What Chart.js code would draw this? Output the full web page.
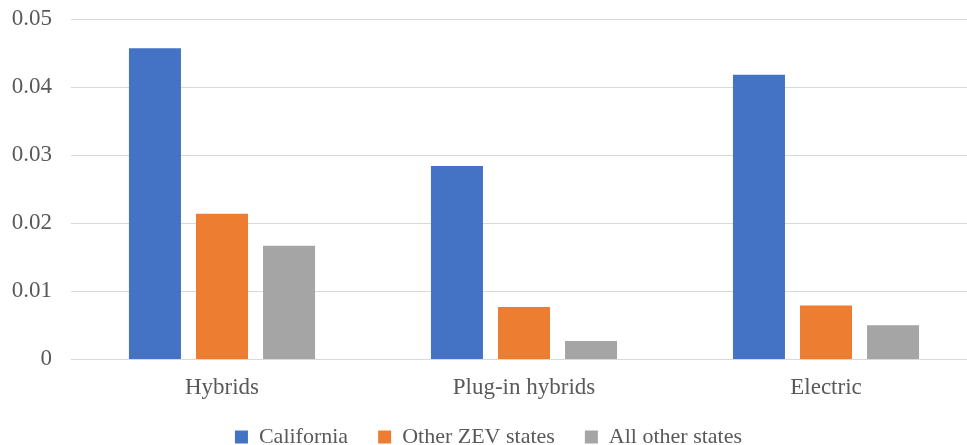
<!DOCTYPE html>
<html>
<head>
<meta charset="utf-8">
<script src="https://cdn.jsdelivr.net/npm/chart.js"></script>
<style>
  html, body { margin: 0; padding: 0; background: #fff; overflow: hidden; }
  #wrap { width: 987px; height: 445px; }
</style>
</head>
<body>
<div id="wrap"><canvas id="myChart" width="987" height="445"></canvas></div>
<script>
// values
const categories = ['Hybrids', 'Plug-in hybrids', 'Electric'];
const seriesNames = ['California', 'Other ZEV states', 'All other states'];
const california = [0.0457, 0.0284, 0.0418];
const otherZev = [0.0214, 0.0077, 0.0079];
const allOther = [0.0167, 0.0027, 0.0050];
const yTicks = [0, 0.01, 0.02, 0.03, 0.04, 0.05];

const colors = ['#4472C4', '#ED7D31', '#A5A5A5'];
const textColor = '#595959';
const font = 'Liberation Serif';

// x axis is squeezed in afterFit, so let its labels draw past its box again
const unclipLabels = {
  id: 'unclipLabels',
  afterLayout(chart) {
    chart.scales.x.bottom += 13;
  }
};

const ctx = document.getElementById('myChart').getContext('2d');
new Chart(ctx, {
  type: 'bar',
  data: {
    labels: categories,
    datasets: [california, otherZev, allOther].map((d, i) => ({
      label: seriesNames[i],
      data: d,
      backgroundColor: colors[i],
      borderWidth: 0,
      categoryPercentage: 0.666,
      barPercentage: 0.776
    }))
  },
  plugins: [unclipLabels],
  options: {
    responsive: false,
    animation: false,
    devicePixelRatio: 1,
    layout: { padding: { top: 19, right: 10, left: 0, bottom: -13 } },
    plugins: {
      tooltip: { enabled: false },
      legend: {
        position: 'bottom',
        labels: {
          color: textColor,
          font: { family: font, size: 22 },
          boxWidth: 13,
          boxHeight: 13,
          padding: 30
        }
      }
    },
    scales: {
      x: {
        grid: { display: false },
        border: { display: false },
        afterFit: (scale) => { scale.height = scale.height - 13; },
        ticks: { color: textColor, font: { family: font, size: 23 }, padding: 7 }
      },
      y: {
        min: 0,
        max: 0.05,
        afterBuildTicks: (scale) => { scale.ticks = yTicks.map(v => ({ value: v })); },
        afterFit: (scale) => {
          scale.width = 71;
          scale.paddingTop = 0;
          scale.paddingBottom = 0;
        },
        grid: { color: '#D9D9D9', lineWidth: 1, drawTicks: false },
        border: { display: false },
        ticks: {
          color: textColor,
          font: { family: font, size: 23 },
          padding: 19,
          callback: (v) => String(v)
        }
      }
    }
  }
});
</script>
</body>
</html>
